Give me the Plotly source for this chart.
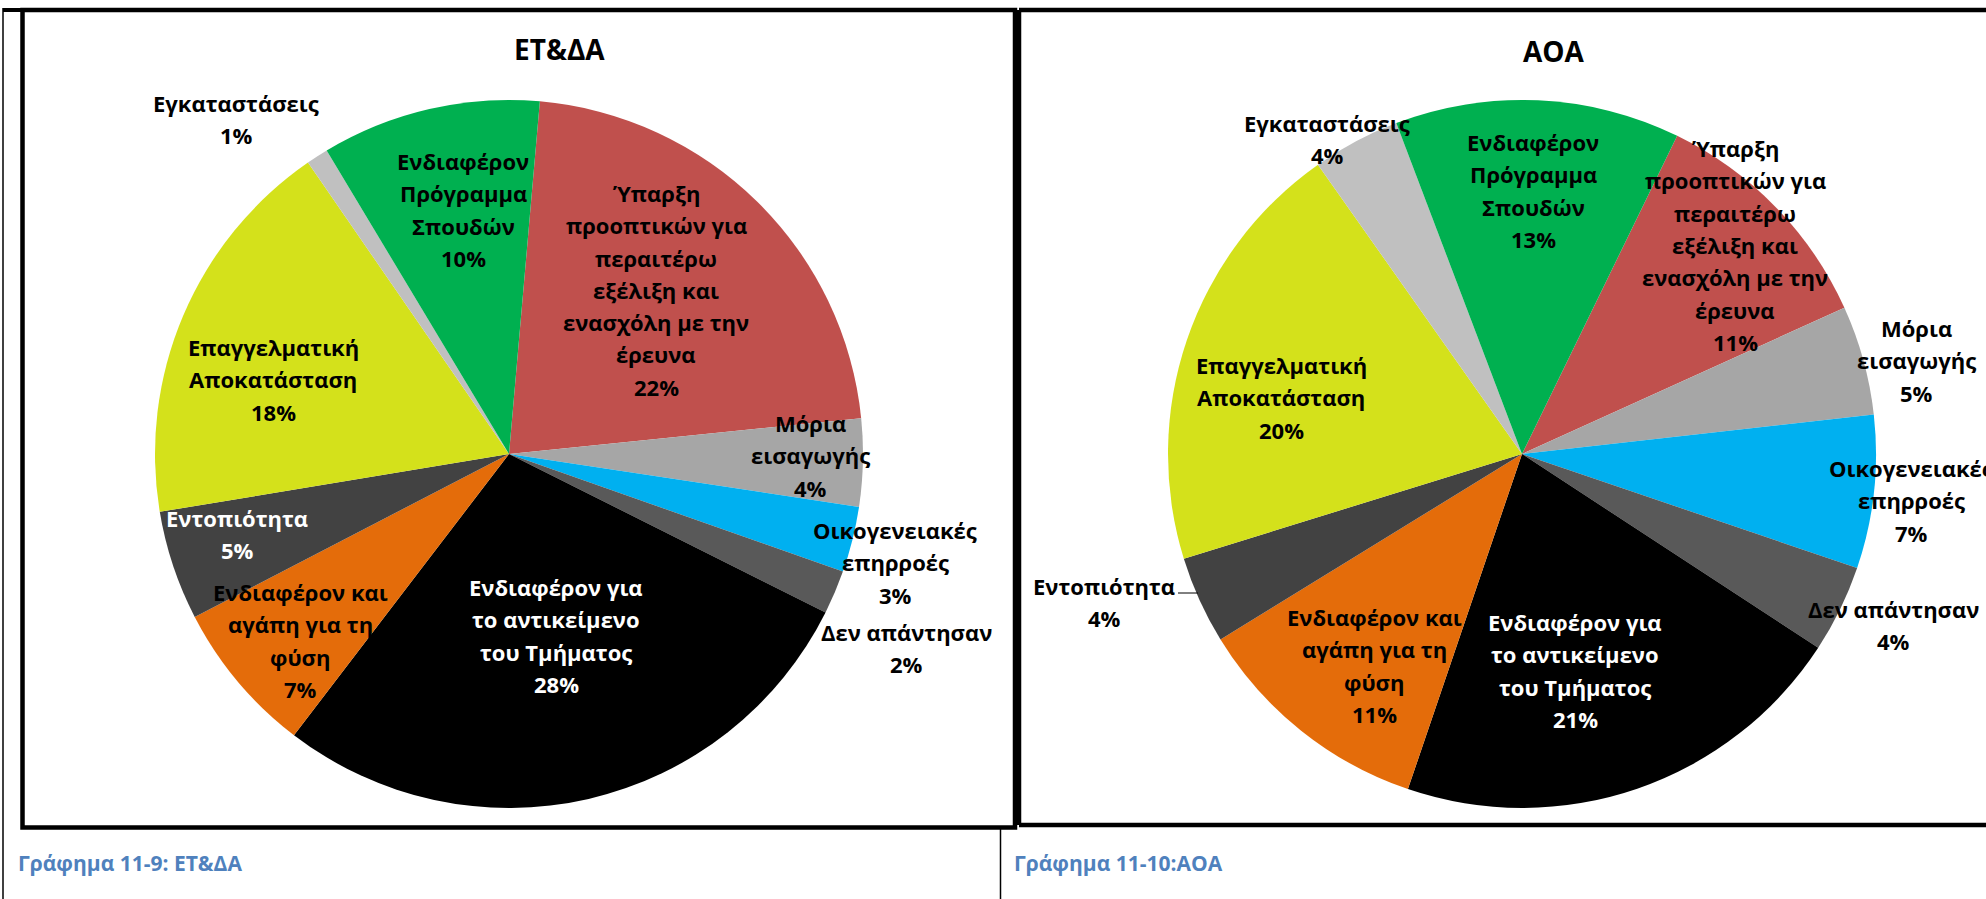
import plotly.graph_objects as go

# categories in clockwise order, as the labels are wrapped in the picture
categories = [
    "Ύπαρξη\nπροοπτικών για\nπεραιτέρω\nεξέλιξη και\nενασχόλη με την\nέρευνα",
    "Μόρια\nεισαγωγής",
    "Οικογενειακές\nεπηρροές",
    "Δεν απάντησαν",
    "Ενδιαφέρον για\nτο αντικείμενο\nτου Τμήματος",
    "Ενδιαφέρον και\nαγάπη για τη\nφύση",
    "Εντοπιότητα",
    "Επαγγελματική\nΑποκατάσταση",
    "Εγκαταστάσεις",
    "Ενδιαφέρον\nΠρόγραμμα\nΣπουδών",
]
etda_values = [22, 4, 3, 2, 28, 7, 5, 18, 1, 10]
aoa_values = [11, 5, 7, 4, 21, 11, 4, 20, 4, 13]

titles = ["ΕΤ&ΔΑ", "ΑΟΑ"]
captions = ["Γράφημα 11-9: ΕΤ&ΔΑ", "Γράφημα 11-10:ΑΟΑ"]

colors = ["#C0504D", "#A6A6A6", "#00B0F0", "#595959", "#000000",
          "#E46C0A", "#424242", "#D4E11B", "#C0C0C0", "#00B050"]

W, H = 1986, 899
FONT = "Open Sans, Noto Sans, DejaVu Sans"
LINE = 32.3


def px(x):
    return x / W


def py(y):
    return 1 - y / H


# label anchors (centre of first line) in page pixels
etda_pos = [(656, 193), (810, 423), (895, 530), (906, 632), (556, 587),
            (300, 592), (237, 518), (273, 347), (236, 103), (463, 161)]
aoa_pos = [(1735, 148), (1916, 328), (1911, 468), (1893, 609), (1575, 622),
           (1374, 617), (1104, 586), (1281, 365), (1327, 123), (1533, 142)]
etda_textcol = ["black", "black", "black", "black", "white",
                "black", "white", "black", "black", "black"]
aoa_textcol = ["black", "black", "black", "black", "white",
               "black", "black", "black", "black", "black"]

charts = [
    dict(values=etda_values, cx=509, cy=454, r=354, rot=5,
         pos=etda_pos, tcol=etda_textcol, title_xy=(559, 49), cap_x=16),
    dict(values=aoa_values, cx=1522, cy=454, r=354, rot=26,
         pos=aoa_pos, tcol=aoa_textcol, title_xy=(1554, 51), cap_x=1012),
]

fig = go.Figure()
annotations = []

for i, c in enumerate(charts):
    fig.add_trace(go.Pie(
        labels=[s.replace("\n", " ") for s in categories],
        values=c["values"],
        sort=False,
        direction="clockwise",
        rotation=c["rot"],
        marker=dict(colors=colors, line=dict(width=0)),
        textinfo="none",
        hoverinfo="label+percent",
        showlegend=False,
        domain=dict(x=[px(c["cx"] - c["r"]), px(c["cx"] + c["r"])],
                    y=[py(c["cy"] + c["r"]), py(c["cy"] - c["r"])]),
    ))
    total = sum(c["values"])
    for cat, v, (lx, ly), tc in zip(categories, c["values"], c["pos"], c["tcol"]):
        lines = cat.split("\n") + [f"{round(v / total * 100)}%"]
        for k, line in enumerate(lines):
            annotations.append(dict(
                x=px(lx), y=py(ly + k * LINE), xref="paper", yref="paper",
                text=line, showarrow=False, xanchor="center", yanchor="middle",
                font=dict(family=FONT, size=22, color=tc, weight="bold"),
            ))
    tx, ty = c["title_xy"]
    annotations.append(dict(
        x=px(tx), y=py(ty), xref="paper", yref="paper", text=titles[i],
        showarrow=False, xanchor="center", yanchor="middle",
        font=dict(family=FONT, size=28, color="black", weight="bold"),
    ))
    annotations.append(dict(
        x=px(c["cap_x"]), y=py(863), xref="paper", yref="paper", text=captions[i],
        showarrow=False, xanchor="left", yanchor="middle",
        font=dict(family=FONT, size=21, color="#4F81BD", weight="bold"),
    ))


def seg(x0, y0, x1, y1, w):
    return dict(type="line", x0=px(x0), x1=px(x1), y0=py(y0), y1=py(y1),
                line=dict(color="black", width=w))


shapes = [
    # page/table rules
    seg(3, 8, 3, 899, 1.5),
    seg(3, 10, 22, 10, 4),
    seg(1000.5, 828, 1000.5, 899, 1.5),
    # ET&DA frame
    dict(type="rect", x0=px(22.5), x1=px(1015), y0=py(10), y1=py(827.5),
         line=dict(color="black", width=4.5)),
    # AOA frame, running on past the right edge of the page
    seg(1019, 10, W, 10, 4.5),
    seg(1019, 10, 1019, 825, 4.5),
    seg(1019, 825, W, 825, 4.5),
    # leader line for Εντοπιότητα (ΑΟΑ)
    seg(1178, 593, 1198, 593, 1),
]

fig.update_layout(
    width=W, height=H,
    margin=dict(l=0, r=0, t=0, b=0),
    paper_bgcolor="white",
    plot_bgcolor="white",
    annotations=annotations,
    shapes=shapes,
)

# page without body margin or scrollbars so the figure fills the window exactly
fig.write_html(
    "out.html",
    config={"displayModeBar": False},
    post_script="document.body.style.margin='0';"
                "document.documentElement.style.overflow='hidden';",
)
